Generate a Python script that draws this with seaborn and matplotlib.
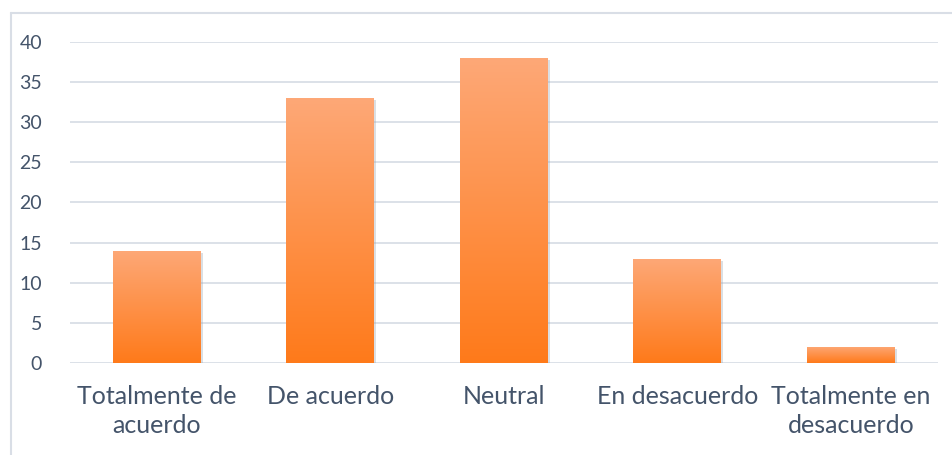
import numpy as np
import pandas as pd
import matplotlib.pyplot as plt
import matplotlib.patheffects as pe
from matplotlib.lines import Line2D
from matplotlib.colors import LinearSegmentedColormap
import seaborn as sns

categories = ["Totalmente de\nacuerdo", "De acuerdo", "Neutral",
              "En desacuerdo", "Totalmente en\ndesacuerdo"]
counts = [14, 33, 38, 13, 2]
y_ticks = [0, 5, 10, 15, 20, 25, 30, 35, 40]

TEXT = "#44546A"
GRID = "#D9DEE6"

sns.set_theme(style="white")
plt.rcParams["font.family"] = ["Lato", "DejaVu Sans"]

df = pd.DataFrame({"categoria": categories, "n": counts})

fig = plt.figure(figsize=(9.52, 4.55), dpi=100)
ax = fig.add_axes([0.0735, 0.2022, 0.9115, 0.7055])

sns.barplot(data=df, x="categoria", y="n", color="#FF8A3D",
            width=0.506, ax=ax, zorder=3)

# vertical gradient inside each bar, light on top, dark at the bottom
cmap = LinearSegmentedColormap.from_list("naranja", ["#FF7A1A", "#FDA877"])
grad = np.linspace(0, 1, 256).reshape(-1, 1)
for bar in ax.patches:
    x0, w, h = bar.get_x(), bar.get_width(), bar.get_height()
    bar.set_edgecolor("none")
    bar.set_path_effects([pe.SimplePatchShadow(offset=(1.5, -1.5),
                                               shadow_rgbFace="#9aa4b0",
                                               alpha=0.35)])
    img = ax.imshow(grad, cmap=cmap, aspect="auto", origin="lower",
                    extent=[x0, x0 + w, 0, h], zorder=4)
    img.set_clip_path(bar)

ax.set_xlim(-0.5, len(categories) - 0.5)
ax.set_ylim(0, 40)
ax.set_yticks(y_ticks)
ax.yaxis.grid(True, color=GRID, linewidth=1.3, zorder=0)
ax.set_axisbelow(True)
for s in ax.spines.values():
    s.set_visible(False)

ax.set_xlabel("")
ax.set_ylabel("")
ax.tick_params(axis="y", labelsize=14, colors=TEXT, length=0, pad=20)
ax.tick_params(axis="x", labelsize=18, colors=TEXT, length=0, pad=16)
for lbl in ax.get_xticklabels():
    lbl.set_linespacing(1.3)

# outer chart frame (only top and left edges are visible in the crop)
fig.add_artist(Line2D([11 / 952, 1], [1 - 13 / 455] * 2,
                      transform=fig.transFigure, color=GRID, lw=1.5))
fig.add_artist(Line2D([11 / 952] * 2, [0, 1 - 13 / 455],
                      transform=fig.transFigure, color=GRID, lw=1.5))

fig.savefig("out.png", dpi=100)
